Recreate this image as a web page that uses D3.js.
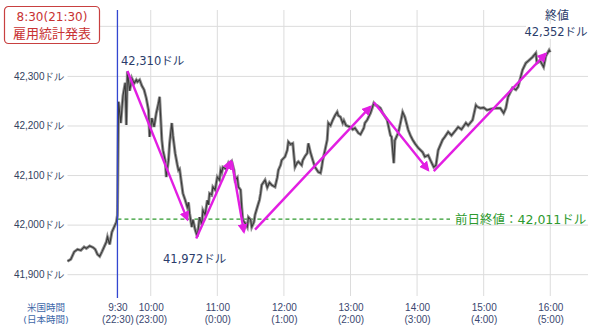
<!DOCTYPE html>
<html>
<head>
<meta charset="utf-8">
<script src="https://cdn.jsdelivr.net/npm/d3@7"></script>
<style>
  html, body { margin: 0; padding: 0; background: #fff; }
  svg { display: block; font-family: "DejaVu Sans", "Noto Sans CJK JP", sans-serif; }
</style>
</head>
<body>
<svg id="chart" width="600" height="335"></svg>
<script>
'use strict'

// minutes from 9:30 (NY) and the Dow price at that minute
const minutes = [-45,-42,-39,-36,-33,-30,-28,-25,-22,-20,-18,-16,-14,-12,-10,-9,-7,-5,-3,-1,0,
  1,3,5,7,8,9,11,13,15,17,18,20,22,24,26,28,29,31,33,35,37,38,40,41,43,44,46,47,49,50,52,54,55,56,59,61,63,64,65,
  67,68,70,72,73,74,76,77,79,81,82,83,85,86,88,90,92,93,94,95,98,100,101,103,105,106,108,109,111,112,113,115,117,118,120,121,
  123,124,126,128,129,130,133,135,137,139,142,144,145,147,148,151,153,154,156,158,160,162,163,166,167,169,171,172,174,176,178,
  181,183,184,185,187,189,190,192,194,196,198,199,201,203,204,206,210,212,214,217,219,222,223,225,228,231,232,234,237,239,241,
  243,246,247,249,250,253,255,257,259,262,264,266,268,271,275,277,280,282,285,287,289,293,295,298,301,305,307,310,314,316,320,
  323,324,327,330,333,336,340,345,348,350,352,356,359,361,365,368,370,374,377,378,381,384,386,389,390]
const prices = [41926,41930,41945,41950,41948,41955,41952,41957,41954,41950,41940,41936,41945,41955,41965,41975,41960,41985,41995,42005,42019,
  42248,42205,42260,42286,42201,42309,42270,42295,42285,42292,42288,42292,42280,42272,42255,42231,42177,42215,42197,42225,42245,42258,42171,42150,42130,42096,42130,42164,42205,42180,42144,42120,42110,42112,42063,42050,42035,42045,42023,
  41995,42010,41990,41976,41995,42015,42000,42029,42020,42049,42040,42063,42060,42076,42070,42096,42090,42110,42105,42116,42112,42124,42120,42127,42110,42090,42095,42076,42070,42035,42009,42003,41995,42015,42010,41995,
  42005,42020,42035,42050,42063,42080,42090,42075,42085,42080,42076,42095,42110,42120,42130,42137,42150,42167,42162,42164,42116,42125,42127,42120,42130,42138,42144,42164,42145,42130,42116,
  42106,42104,42115,42130,42150,42171,42205,42200,42211,42220,42227,42220,42217,42205,42210,42200,42197,42192,42195,42185,42182,42195,42205,42211,42225,42245,42242,42240,42235,42225,42218,
  42211,42180,42177,42124,42170,42185,42205,42227,42217,42191,42180,42171,42164,42155,42146,42137,42140,42130,42116,42120,42150,42171,42177,42187,42180,42191,42197,42192,42205,42200,42211,
  42241,42238,42235,42236,42231,42233,42235,42235,42225,42235,42258,42276,42272,42278,42312,42326,42330,42338,42346,42326,42330,42318,42340,42352,42348]

const priceTicks = [41900, 42000, 42100, 42200, 42300]
const gridTop = 42400   // unlabelled grid line behind the event box
const usTimes = ['9:30', '10:00', '11:00', '12:00', '13:00', '14:00', '15:00', '16:00']
const jpTimes = ['(22:30)', '(23:00)', '(0:00)', '(1:00)', '(2:00)', '(3:00)', '(4:00)', '(5:00)']

// trend arrows: [minute, price] -> [minute, price]
const arrowFrom = [[9, 42310], [71, 41972], [103, 42128], [124, 41990], [231, 42247], [285, 42108]]
const arrowTo = [[63, 42010], [102, 42128], [114, 41985], [228, 42238], [280, 42110], [386, 42345]]

const prevClose = 42011
const highLabel = '42,310ドル'
const lowLabel = '41,972ドル'
const closeLabel = '42,352ドル'

const svg = d3.select('#chart')
const x = d3.scaleLinear().domain([-45, 424]).range([67.5, 588])
const y = d3.scaleLinear().domain([41858, 42433]).range([295, 10])
const toMin = s => { const p = s.split(':'); return +p[0] * 60 + +p[1] - 570 }
const tickMinutes = usTimes.map(toMin)

// horizontal grid + price labels
const yAxis = svg.append('g')
  .attr('transform', 'translate(' + x(-45) + ',0)')
  .call(d3.axisLeft(y).tickValues(priceTicks)
    .tickSize(-(x(424) - x(-45))).tickPadding(3)
    .tickFormat(d => d3.format(',')(d) + 'ドル'))
yAxis.select('.domain').remove()
yAxis.selectAll('line').attr('stroke', '#dcdcdc')
yAxis.selectAll('text').attr('fill', '#33415e').attr('font-size', 10)
svg.append('line')
  .attr('x1', x(-45)).attr('x2', x(424))
  .attr('y1', y(gridTop)).attr('y2', y(gridTop))
  .attr('stroke', '#dcdcdc')

// vertical grid at each hour
svg.append('g').selectAll('line')
  .data(tickMinutes.slice(1))
  .enter().append('line')
  .attr('x1', d => x(d)).attr('x2', d => x(d))
  .attr('y1', 10).attr('y2', 296)
  .attr('stroke', '#dcdcdc')

// time labels (two lines)
const xAxis = svg.append('g')
  .attr('transform', 'translate(0,296)')
  .call(d3.axisBottom(x).tickValues(tickMinutes).tickSize(0).tickFormat(''))
xAxis.select('.domain').remove()
xAxis.selectAll('.tick').each(function(d, i) {
  const t = d3.select(this)
  t.append('text').attr('y', 15).attr('text-anchor', 'middle')
    .attr('fill', '#3a4770').attr('font-size', 10).text(usTimes[i])
  t.append('text').attr('y', 27).attr('text-anchor', 'middle')
    .attr('fill', '#3a4770').attr('font-size', 10).text(jpTimes[i])
})
svg.append('text').attr('x', 46).attr('y', 311).attr('text-anchor', 'middle')
  .attr('fill', '#3d67a8').attr('font-size', 9.5).text('米国時間')
svg.append('text').attr('x', 46).attr('y', 323).attr('text-anchor', 'middle')
  .attr('fill', '#3d67a8').attr('font-size', 9.5).text('(日本時間)')

// previous close
svg.append('line')
  .attr('x1', x(0)).attr('x2', 450)
  .attr('y1', y(prevClose)).attr('y2', y(prevClose))
  .attr('stroke', '#2e9a2e').attr('stroke-width', 1.3).attr('stroke-dasharray', '4,3')
svg.append('text').attr('x', 455).attr('y', y(prevClose) + 4.5)
  .attr('fill', '#2e9a2e').attr('font-size', 12.5)
  .text('前日終値：' + d3.format(',')(prevClose) + 'ドル')

// price line
const pts = minutes.map((m, i) => [m, prices[i]])
const line = d3.line().x(d => x(d[0])).y(d => y(d[1]))
svg.append('path').datum(pts).attr('d', line)
  .attr('fill', 'none').attr('stroke', '#8e8e8e').attr('stroke-width', 3)
svg.append('path').datum(pts).attr('d', line)
  .attr('fill', 'none').attr('stroke', '#3a3a3a').attr('stroke-width', 1.1)

// release time marker
svg.append('line')
  .attr('x1', x(0)).attr('x2', x(0)).attr('y1', 10).attr('y2', 298)
  .attr('stroke', '#3346d0').attr('stroke-width', 1.3)

// arrows
svg.append('defs').append('marker')
  .attr('id', 'head').attr('viewBox', '0 0 10 10')
  .attr('refX', 8).attr('refY', 5)
  .attr('markerWidth', 4.2).attr('markerHeight', 4.2)
  .attr('orient', 'auto')
  .append('path').attr('d', 'M0,0L10,5L0,10Z').attr('fill', '#e21ee2')
svg.append('g').selectAll('line')
  .data(arrowFrom)
  .enter().append('line')
  .attr('x1', d => x(d[0])).attr('y1', d => y(d[1]))
  .attr('x2', (d, i) => x(arrowTo[i][0])).attr('y2', (d, i) => y(arrowTo[i][1]))
  .attr('stroke', '#e21ee2').attr('stroke-width', 2.4)
  .attr('marker-end', 'url(#head)')

// annotations
svg.append('text').attr('x', 121).attr('y', 65).attr('fill', '#2b3d6b')
  .attr('font-size', 11.5).text(highLabel)
svg.append('text').attr('x', 163).attr('y', 263).attr('fill', '#2b3d6b')
  .attr('font-size', 11.5).text(lowLabel)
svg.append('rect').attr('x', 526).attr('y', 24).attr('width', 62).attr('height', 15).attr('fill', '#fff')
svg.append('text').attr('x', 557).attr('y', 20).attr('text-anchor', 'middle')
  .attr('fill', '#2b3d6b').attr('font-size', 12).text('終値')
svg.append('text').attr('x', 556).attr('y', 36).attr('text-anchor', 'middle')
  .attr('fill', '#2b3d6b').attr('font-size', 11.5).text(closeLabel)

// event box
svg.append('rect').attr('x', 4.5).attr('y', 6.5).attr('width', 95).attr('height', 37)
  .attr('rx', 4).attr('fill', '#fff').attr('stroke', '#c84040').attr('stroke-width', 1.2)
svg.append('text').attr('x', 52).attr('y', 21).attr('text-anchor', 'middle')
  .attr('fill', '#c83232').attr('font-size', 12).text('8:30(21:30)')
svg.append('text').attr('x', 52).attr('y', 37.5).attr('text-anchor', 'middle')
  .attr('fill', '#c83232').attr('font-size', 13).text('雇用統計発表')
</script>
</body>
</html>
